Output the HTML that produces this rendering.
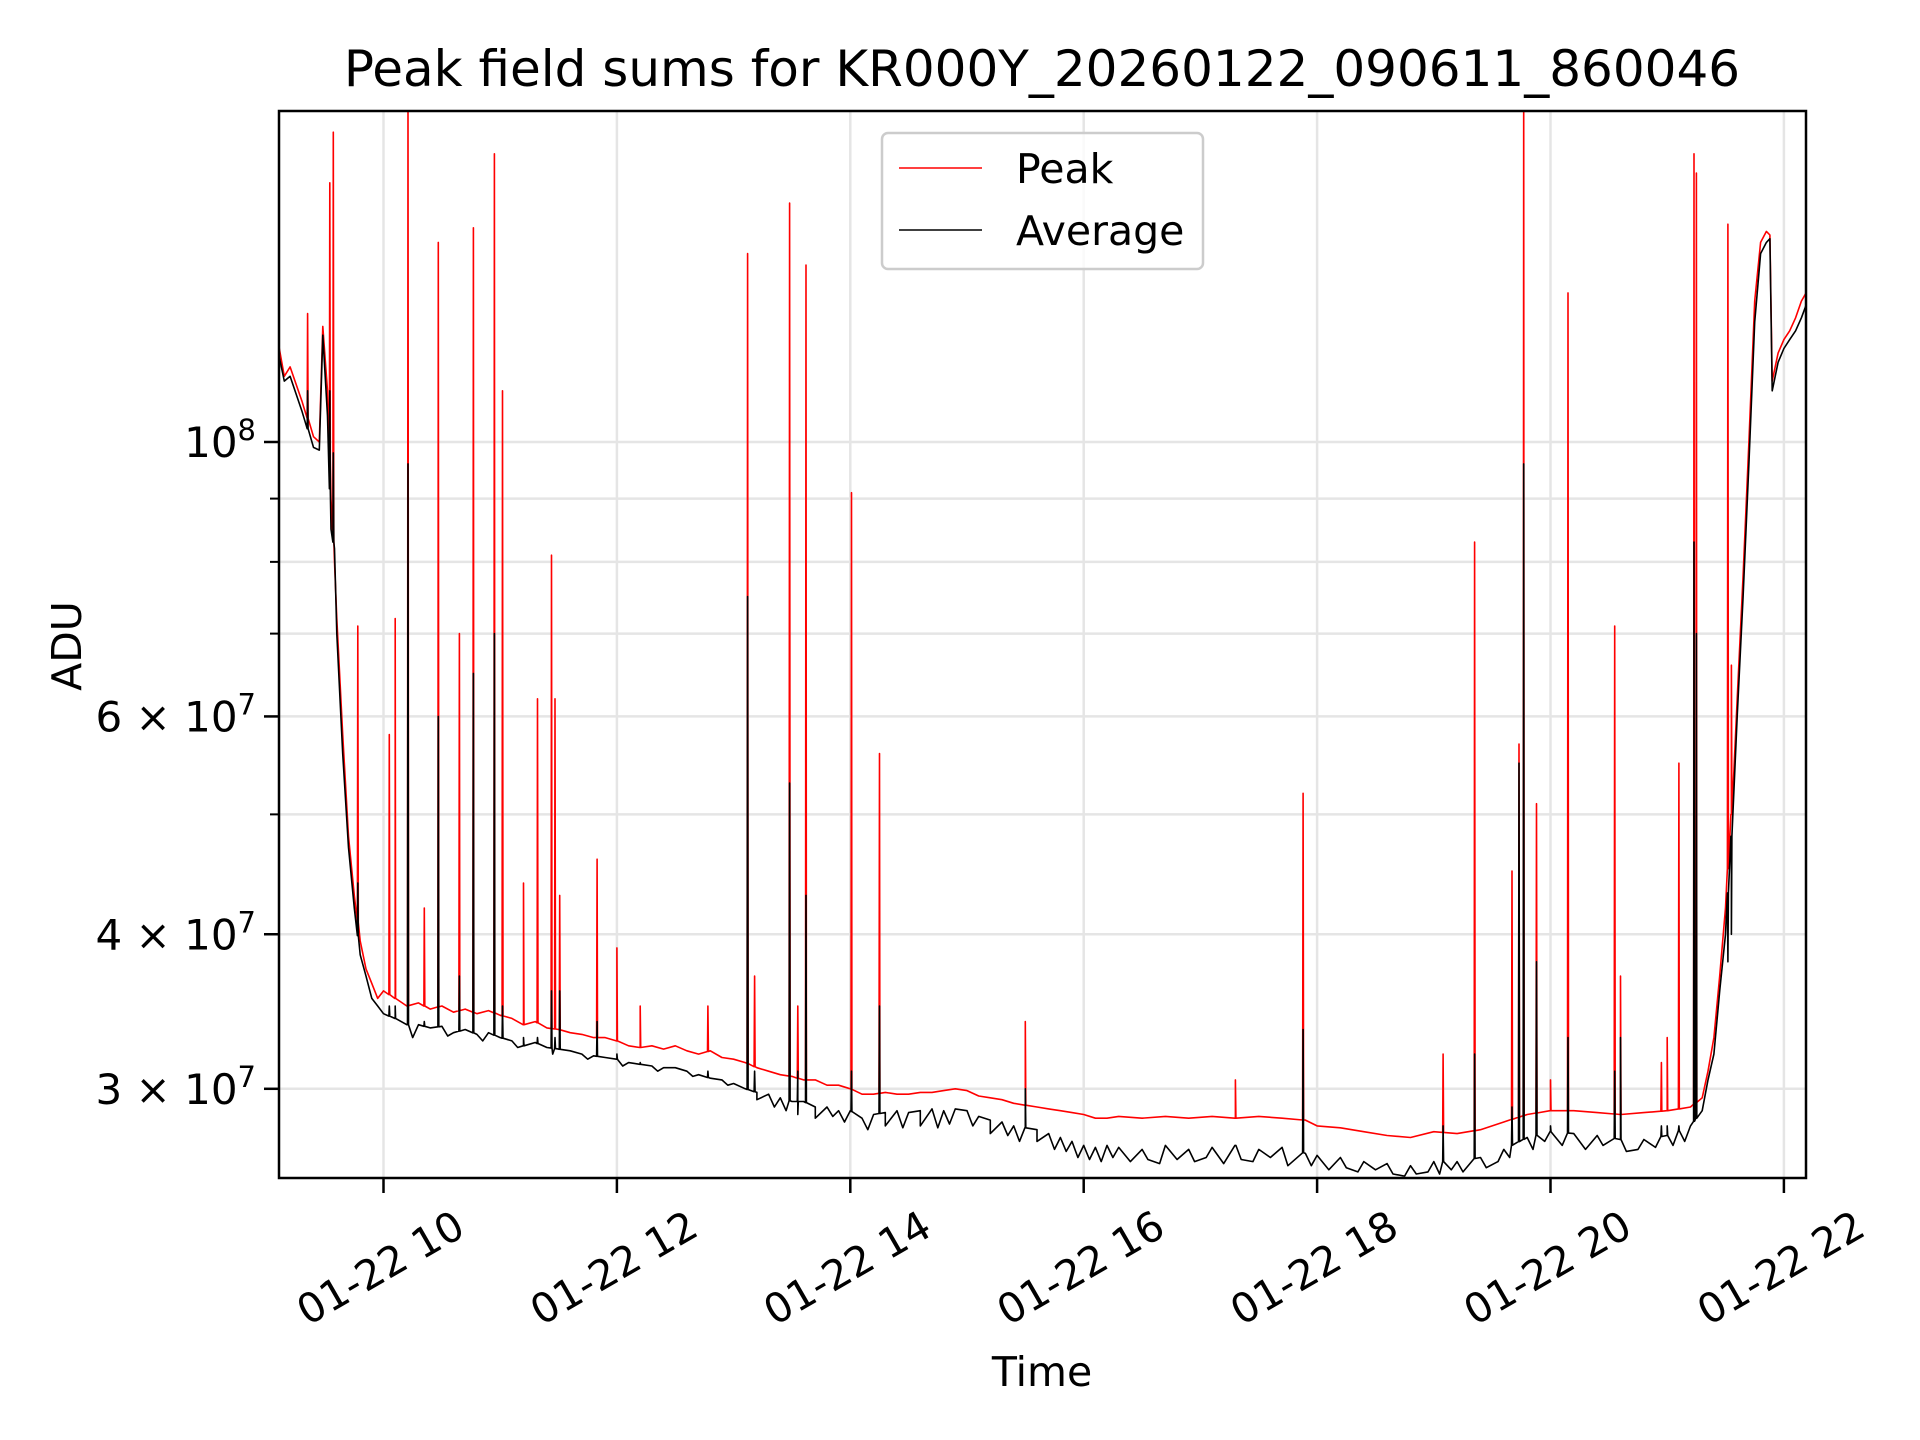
<!DOCTYPE html>
<html><head><meta charset="utf-8"><style>
html,body{margin:0;padding:0;background:#fff;}
svg{display:block;font-family:"DejaVu Sans","Liberation Sans",sans-serif;}
</style></head><body>
<svg id="chart" width="1920" height="1440" viewBox="0 0 1920 1440">
<rect width="1920" height="1440" fill="#fff"/>
<text x="1042" y="86" font-size="50" text-anchor="middle">Peak field sums for KR000Y_20260122_090611_860046</text>
<g id="grid"></g>
<g id="plot"></g>
<rect x="279" y="111" width="1527" height="1067" fill="none" stroke="#000" stroke-width="2.5"/>
<g id="axes"></g>
<text x="1042" y="1386" font-size="41" text-anchor="middle">Time</text>
<text transform="translate(81,646) rotate(-90)" font-size="41" text-anchor="middle">ADU</text>
<g>
<rect x="882" y="133" width="321" height="136" rx="6" fill="#fff" fill-opacity="0.8" stroke="#ccc" stroke-width="2.5"/>
<line x1="899" y1="168" x2="982" y2="168" stroke="#f00" stroke-width="1.5"/>
<text x="1016" y="183" font-size="41">Peak</text>
<line x1="899" y1="230" x2="982" y2="230" stroke="#000" stroke-width="1.5"/>
<text x="1016" y="245" font-size="41">Average</text>
</g>
</svg>
<script>
const times=[9.10,9.15,9.20,9.30,9.40,9.45,9.48,9.52,9.55,9.58,9.60,9.65,9.70,9.75,9.80,9.85,9.90,9.95,10.0,10.1,10.2,10.3,10.4,10.5,10.6,10.7,10.8,10.9,11.0,11.1,11.2,11.3,11.4,11.5,11.6,11.7,11.8,11.9,12.0,12.1,12.2,12.3,12.4,12.5,12.6,12.7,12.8,12.9,13.0,13.1,13.2,13.3,13.4,13.5,13.6,13.7,13.8,13.9,14.0,14.1,14.2,14.3,14.4,14.5,14.6,14.7,14.8,14.9,15.0,15.1,15.2,15.3,15.4,15.5,15.6,15.7,15.8,15.9,16.0,16.1,16.2,16.3,16.5,16.7,16.9,17.1,17.3,17.5,17.7,17.9,18.0,18.2,18.4,18.6,18.8,19.0,19.2,19.4,19.6,19.8,20.0,20.2,20.4,20.6,20.8,21.0,21.2,21.3,21.35,21.4,21.45,21.5,21.55,21.6,21.65,21.7,21.75,21.8,21.85,21.88,21.9,21.95,22.0,22.05,22.1,22.15,22.19];
const peakBase=[12.0,11.3,11.5,10.8,10.1,10.0,12.4,11.0,9.0,8.0,7.2,5.8,4.8,4.3,3.95,3.75,3.65,3.55,3.6,3.55,3.5,3.52,3.48,3.5,3.46,3.48,3.45,3.47,3.44,3.42,3.38,3.4,3.36,3.35,3.33,3.32,3.3,3.3,3.28,3.25,3.24,3.25,3.23,3.25,3.22,3.2,3.22,3.18,3.17,3.15,3.12,3.1,3.08,3.07,3.05,3.05,3.02,3.02,3.0,2.97,2.97,2.98,2.97,2.97,2.98,2.98,2.99,3.0,2.99,2.96,2.95,2.94,2.92,2.91,2.9,2.89,2.88,2.87,2.86,2.84,2.84,2.85,2.84,2.85,2.84,2.85,2.84,2.85,2.84,2.83,2.8,2.79,2.77,2.75,2.74,2.77,2.76,2.78,2.82,2.86,2.88,2.88,2.87,2.86,2.87,2.88,2.9,2.95,3.1,3.3,3.7,4.2,5.0,6.2,7.8,10.0,13.0,14.5,14.8,14.7,11.2,11.8,12.1,12.3,12.6,13.0,13.2];
const avgBase=[11.8,11.2,11.3,10.6,9.9,9.85,12.2,10.5,8.5,8.2,7.0,5.6,4.7,4.2,3.85,3.7,3.55,3.5,3.45,3.42,3.38,3.38,3.36,3.37,3.33,3.35,3.32,3.33,3.3,3.28,3.25,3.27,3.24,3.23,3.22,3.2,3.19,3.18,3.17,3.15,3.14,3.13,3.12,3.12,3.1,3.08,3.06,3.05,3.03,3.0,2.98,2.97,2.95,2.93,2.93,2.9,2.9,2.88,2.88,2.84,2.86,2.87,2.88,2.87,2.88,2.89,2.88,2.89,2.88,2.85,2.83,2.82,2.8,2.79,2.78,2.76,2.74,2.72,2.7,2.69,2.7,2.69,2.68,2.7,2.68,2.69,2.7,2.68,2.69,2.66,2.65,2.64,2.62,2.61,2.6,2.62,2.62,2.64,2.68,2.74,2.77,2.76,2.75,2.73,2.73,2.75,2.8,2.88,3.05,3.2,3.6,4.0,4.8,6.0,7.5,9.6,12.5,14.2,14.5,14.6,11.0,11.6,11.9,12.1,12.3,12.6,12.9];
const avgDipTimes=[10.25,10.55,10.85,11.15,11.45,11.75,12.05,12.35,12.65,12.95,13.2,13.35,13.45,13.55,13.7,13.85,13.95,14.15,14.3,14.45,14.6,14.75,14.85,15.05,15.2,15.35,15.45,15.6,15.75,15.85,15.95,16.05,16.15,16.25,16.4,16.55,16.65,16.8,16.95,17.05,17.2,17.35,17.45,17.6,17.75,17.95,18.1,18.25,18.35,18.5,18.65,18.75,18.85,18.95,19.05,19.15,19.25,19.45,19.55,19.65,19.85,19.95,20.1,20.3,20.45,20.65,20.75,20.9,21.05,21.15];
const avgDipVals=[3.30,3.31,3.28,3.24,3.20,3.17,3.13,3.10,3.07,3.02,2.94,2.90,2.88,2.86,2.84,2.85,2.82,2.78,2.80,2.79,2.80,2.79,2.81,2.80,2.76,2.75,2.72,2.72,2.68,2.67,2.64,2.63,2.62,2.64,2.62,2.63,2.61,2.63,2.62,2.64,2.61,2.63,2.62,2.64,2.60,2.60,2.58,2.59,2.57,2.58,2.56,2.55,2.56,2.57,2.56,2.58,2.57,2.59,2.62,2.64,2.68,2.72,2.70,2.68,2.70,2.67,2.68,2.69,2.70,2.72];
const spikeTimes=[9.35,9.54,9.57,9.78,10.05,10.1,10.21,10.35,10.47,10.65,10.77,10.95,11.02,11.2,11.32,11.44,11.47,11.51,11.83,12.0,12.2,12.78,13.12,13.18,13.48,13.55,13.62,14.01,14.25,15.5,17.3,17.88,19.08,19.35,19.67,19.73,19.77,19.88,20.0,20.15,20.55,20.6,20.95,21.0,21.1,21.23,21.25,21.52,21.55];
const spikePeak=[12.7,16.2,17.8,7.1,5.8,7.2,19.5,4.2,14.5,7.0,14.9,17.1,11.0,4.4,6.2,8.1,6.2,4.3,4.6,3.9,3.5,3.5,14.2,3.7,15.6,3.5,13.9,9.1,5.6,3.4,3.05,5.2,3.2,8.3,4.5,5.7,19.5,5.1,3.05,13.2,7.1,3.7,3.15,3.3,5.5,17.1,16.5,15.0,6.6];
const spikeAvg=[11.0,11.0,9.8,4.4,3.5,3.5,9.6,3.4,6.0,3.7,6.5,7.0,3.5,3.3,3.3,3.6,3.3,3.6,3.4,3.2,3.15,3.1,7.5,3.1,5.3,3.1,4.3,3.1,3.5,3.0,2.7,3.35,2.8,3.2,2.9,5.5,9.6,3.8,2.8,3.3,3.1,3.3,2.8,2.8,2.8,8.3,7.0,3.8,4.0];
const xTickHours=[10,12,14,16,18,20,22];
const xTickLabels=["01-22 10","01-22 12","01-22 14","01-22 16","01-22 18","01-22 20","01-22 22"];
const yMajorVals=[3e7,4e7,6e7,1e8];
const yMajorLabels=["3 × 10^7","4 × 10^7","6 × 10^7","10^8"];
const yMinorVals=[5e7,7e7,8e7,9e7];

const NS="http://www.w3.org/2000/svg";
const X0=279,X1=1806,Y0=111,Y1=1178;
const TX10=383.5, PX_PER_H=116.7;
const xs=t=>TX10+(t-10)*PX_PER_H;
const LOG_PER=1237, Y_1E8=442;
const ys=v=>Y_1E8-(Math.log10(v)-8)*LOG_PER;
function mk(tag,attrs,parent){const e=document.createElementNS(NS,tag);for(const k in attrs)e.setAttribute(k,attrs[k]);parent.appendChild(e);return e;}
const grid=document.getElementById('grid'),plot=document.getElementById('plot'),axes=document.getElementById('axes');

const defs=mk('defs',{},plot);
const cp=mk('clipPath',{id:'clip'},defs);
mk('rect',{x:X0,y:Y0,width:X1-X0,height:Y1-Y0},cp);

xTickHours.forEach((h,i)=>{
  const x=xs(h);
  const g=mk('line',{x1:x,y1:Y0,x2:x,y2:Y1,stroke:'#e5e5e5','stroke-width':2.5},grid);
  
  
  const tk=mk('line',{x1:x,y1:Y1,x2:x,y2:Y1+15,stroke:'#000','stroke-width':2.5},axes);
  
  
  const tx=mk('text',{x:0,y:0,'font-size':41,'text-anchor':'middle','dominant-baseline':'central',transform:`translate(${x-3},${Y1+90}) rotate(-30)`},axes);
  tx.textContent=xTickLabels[i];
  
  
});
function ylab(parent,y,lab){
  const t=mk('text',{x:256,y:y+15,'font-size':42,'text-anchor':'end'},parent);
  
  
  const m=lab.split('^');
  const a=document.createElementNS(NS,'tspan');a.textContent=m[0];t.appendChild(a);
  const b=document.createElementNS(NS,'tspan');b.setAttribute('dy','-17');b.setAttribute('font-size','29');b.textContent=m[1];t.appendChild(b);
}
yMajorVals.forEach((v,i)=>{
  const y=ys(v);
  const g=mk('line',{x1:X0,y1:y,x2:X1,y2:y,stroke:'#e5e5e5','stroke-width':2.5},grid);
  
  
  const tk=mk('line',{x1:X0-15,y1:y,x2:X0,y2:y,stroke:'#000','stroke-width':2.5},axes);
  
  
  ylab(axes,y,yMajorLabels[i]);
});
yMinorVals.forEach(v=>{
  const y=ys(v);
  const g=mk('line',{x1:X0,y1:y,x2:X1,y2:y,stroke:'#e5e5e5','stroke-width':2.5},grid);
  
  
  const tk=mk('line',{x1:X0-9,y1:y,x2:X0,y2:y,stroke:'#000','stroke-width':2},axes);
  
  
});
function interp(t,arr){
  for(let i=0;i<times.length-1;i++){if(t>=times[i]&&t<=times[i+1]){const f=(t-times[i])/(times[i+1]-times[i]);return arr[i]+f*(arr[i+1]-arr[i]);}}
  return arr[arr.length-1];
}
function series(base,spk,extraT,extraV){
  const pts=times.map((t,i)=>[t,base[i]]);
  spikeTimes.forEach((t,i)=>{const b=interp(t,base);pts.push([t-0.004,b],[t,spk[i]],[t+0.004,b]);});
  if(extraT) extraT.forEach((t,i)=>pts.push([t,extraV[i]]));
  pts.sort((a,b)=>a[0]-b[0]);
  return pts.map(p=>xs(p[0]).toFixed(1)+','+ys(p[1]*1e7).toFixed(1)).join(' ');
}
const pl=mk('polyline',{points:series(peakBase,spikePeak),fill:'none',stroke:'#f00','stroke-width':1.6,'stroke-linejoin':'round','clip-path':'url(#clip)'},plot);


const al=mk('polyline',{points:series(avgBase,spikeAvg,avgDipTimes,avgDipVals),fill:'none',stroke:'#000','stroke-width':1.6,'stroke-linejoin':'round','clip-path':'url(#clip)'},plot);


</script>
</body></html>
